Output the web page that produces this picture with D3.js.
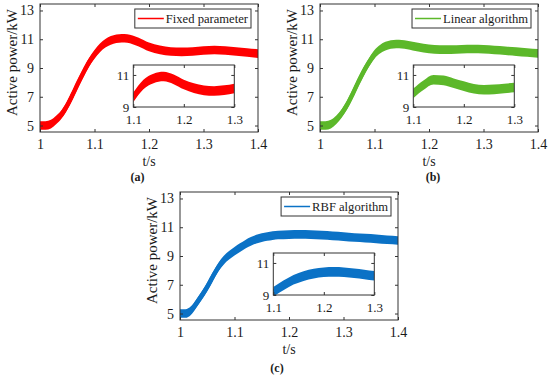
<!DOCTYPE html>
<meta charset="utf-8">
<style>
body {
    margin: 0px;
    background: #fff;
}
svg text, .tick text {
    font-family: "Liberation Serif", "Times New Roman", "DejaVu Serif", serif !important;
    fill: #1a1a1a;
}
.tick line {
    stroke: #333;
}
</style>
<body>
<script src="https://d3js.org/d3.v7.min.js"></script>
<script>
var width = 550,
    height = 379

// time grid of the main plots (s)
var time = [1.00, 1.01, 1.02, 1.03, 1.04, 1.05, 1.06, 1.07, 1.08, 1.09,
            1.10, 1.11, 1.12, 1.13, 1.14, 1.15, 1.16, 1.17, 1.18,
            1.20, 1.22, 1.24, 1.26, 1.28, 1.30, 1.32, 1.34, 1.36, 1.38, 1.40]

// active power, kW
var fixedPower  = [5.0, 5.0, 5.1, 5.4, 5.8, 6.4, 7.15, 7.95, 8.7, 9.4,
                   9.95, 10.4, 10.72, 10.92, 11.03, 11.07, 11.05, 10.96, 10.82,
                   10.47, 10.26, 10.15, 10.12, 10.15, 10.22, 10.25, 10.22, 10.15, 10.08, 10.0]
var linearPower = [5.0, 5.0, 5.1, 5.4, 5.85, 6.45, 7.2, 8.0, 8.75, 9.4,
                   9.95, 10.3, 10.52, 10.63, 10.67, 10.65, 10.6, 10.52, 10.45,
                   10.33, 10.28, 10.28, 10.3, 10.32, 10.3, 10.25, 10.2, 10.14, 10.08, 10.02]
var rbfPower    = [5.0, 5.0, 5.2, 5.7, 6.25, 6.85, 7.55, 8.2, 8.7, 9.05,
                   9.33, 9.58, 9.82, 10.02, 10.17, 10.28, 10.36, 10.42, 10.46,
                   10.49, 10.5, 10.49, 10.45, 10.4, 10.35, 10.29, 10.24, 10.19, 10.13, 10.08]

// zoomed views 1.1 - 1.3 s
var insetTime   = [1.10, 1.12, 1.14, 1.16, 1.18, 1.20, 1.22, 1.24, 1.26, 1.28, 1.30]
var fixedInset  = [9.6, 10.4, 10.78, 10.9, 10.72, 10.4, 10.18, 10.04, 10.0, 10.05, 10.15]
var linearInset = [9.85, 10.36, 10.7, 10.66, 10.48, 10.3, 10.14, 10.08, 10.1, 10.15, 10.22]
var rbfInset    = [9.2, 9.6, 9.95, 10.18, 10.33, 10.42, 10.44, 10.42, 10.36, 10.28, 10.2]

var xTicks = [1, 1.1, 1.2, 1.3, 1.4]
var yTicks = [5, 7, 9, 11, 13]
var insetXTicks = [1.1, 1.2, 1.3]
var insetYTicks = [9, 11]

var panels = [
    {name: "Fixed parameter", tag: "(a)", color: "#ff0000", main: fixedPower, inset: fixedInset,
     left: 40, top: 4, tagX: 137.5, tagY: 181},
    {name: "Linear algorithm", tag: "(b)", color: "#5cb82a", main: linearPower, inset: linearInset,
     left: 320, top: 4, tagX: 433, tagY: 181},
    {name: "RBF algorithm", tag: "(c)", color: "#0b72c6", main: rbfPower, inset: rbfInset,
     left: 180, top: 192, tagX: 277, tagY: 372}
]

var plotW = 218,
    plotH = 128,
    insetW = 101,
    insetH = 42,
    band = 0.3   // half width of the noise band, kW

var svg = d3.select("body").append("svg")
    .attr("width", width)
    .attr("height", height)

svg.append("rect")
    .attr("width", width)
    .attr("height", height)
    .attr("fill", "#fff")

var fmt = function(d) { return String(+d.toFixed(1)) }

function drawBand(g, x, y, xs, values, color, clipId) {
    var pts = xs.map(function(t, i) { return [t, values[i]] })

    var area = d3.area()
        .x(function(d) { return x(d[0]) })
        .y0(function(d) { return y(d[1] - band) })
        .y1(function(d) { return y(d[1] + band) })
        .curve(d3.curveMonotoneX)

    var line = d3.line()
        .x(function(d) { return x(d[0]) })
        .y(function(d) { return y(d[1]) })
        .curve(d3.curveMonotoneX)

    var holder = g.append("g").attr("clip-path", "url(#" + clipId + ")")
    holder.append("path")
        .datum(pts)
        .attr("d", area)
        .attr("fill", color)
    holder.append("path")
        .datum(pts)
        .attr("d", line)
        .attr("fill", "none")
        .attr("stroke", color)
        .attr("stroke-width", 4.5)
}

function frame(g, x, y, w, h, xt, yt, fontSize, xPad, yPad) {
    g.append("g")
        .attr("transform", "translate(0," + h + ")")
        .call(d3.axisBottom(x).tickValues(xt).tickFormat(fmt).tickSize(-3).tickPadding(xPad))
        .call(function(a) { a.select(".domain").remove() })
        .selectAll("text").style("font-size", fontSize + "px")
    g.append("g")
        .call(d3.axisTop(x).tickValues(xt).tickFormat("").tickSize(-3))
        .call(function(a) { a.select(".domain").remove() })
    g.append("g")
        .call(d3.axisLeft(y).tickValues(yt).tickFormat(fmt).tickSize(-3).tickPadding(yPad))
        .call(function(a) { a.select(".domain").remove() })
        .selectAll("text").style("font-size", fontSize + "px")
    g.append("g")
        .attr("transform", "translate(" + w + ",0)")
        .call(d3.axisRight(y).tickValues(yt).tickFormat("").tickSize(-3))
        .call(function(a) { a.select(".domain").remove() })
    g.append("rect")
        .attr("width", w)
        .attr("height", h)
        .attr("fill", "none")
        .attr("stroke", "#333")
        .attr("stroke-width", 1)
}

var defs = svg.append("defs")

panels.forEach(function(p, k) {
    var g = svg.append("g")
        .attr("transform", "translate(" + p.left + "," + p.top + ")")

    var x = d3.scaleLinear().domain([1, 1.4]).range([0, plotW])
    var y = d3.scaleLinear().domain([4.55, 13.45]).range([plotH, 0])

    defs.append("clipPath").attr("id", "main" + k)
        .append("rect").attr("width", plotW).attr("height", plotH)

    drawBand(g, x, y, time, p.main, p.color, "main" + k)
    frame(g, x, y, plotW, plotH, xTicks, yTicks, 14, 7, 6)

    // axis titles
    g.append("text")
        .attr("x", plotW / 2)
        .attr("y", plotH + 34)
        .attr("text-anchor", "middle")
        .style("font-size", "14px")
        .text("t/s")

    g.append("text")
        .attr("transform", "translate(-28," + (plotH / 2 - 5.5) + ") rotate(-90)")
        .attr("dy", "0.35em")
        .attr("text-anchor", "middle")
        .style("font-size", "15px")
        .text("Active power/kW")

    // legend
    var leg = g.append("g")
    var legBox = leg.append("rect")
        .attr("height", 19)
        .attr("fill", "#fff")
        .attr("stroke", "#333")
        .attr("stroke-width", 1)
    var legLine = leg.append("line")
        .attr("stroke", p.color)
        .attr("stroke-width", 1.5)
    var legText = leg.append("text")
        .style("font-size", "12.6px")
        .text(p.name)
    var tw = legText.node().getComputedTextLength()
    var bw = tw + 34
    var bx = plotW - 7 - bw, by = 5
    legBox.attr("x", bx).attr("y", by).attr("width", bw)
    legLine.attr("x1", bx + 3).attr("x2", bx + 29).attr("y1", by + 9.5).attr("y2", by + 9.5)
    legText.attr("x", bx + 31).attr("y", by + 14)

    // inset
    var ig = g.append("g")
        .attr("transform", "translate(93.3,61)")
    var ix = d3.scaleLinear().domain([1.1, 1.3]).range([0, insetW])
    var iy = d3.scaleLinear().domain([9, 11.62]).range([insetH, 0])

    defs.append("clipPath").attr("id", "inset" + k)
        .append("rect").attr("width", insetW).attr("height", insetH)

    ig.append("rect")
        .attr("width", insetW)
        .attr("height", insetH)
        .attr("fill", "#fff")

    drawBand(ig, ix, iy, insetTime, p.inset, p.color, "inset" + k)
    frame(ig, ix, iy, insetW, insetH, insetXTicks, insetYTicks, 13, 8, 4)

    // subfigure tag
    svg.append("text")
        .attr("x", p.tagX)
        .attr("y", p.tagY)
        .attr("text-anchor", "middle")
        .style("font-size", "12px")
        .style("font-weight", "bold")
        .text(p.tag)
})
</script>
